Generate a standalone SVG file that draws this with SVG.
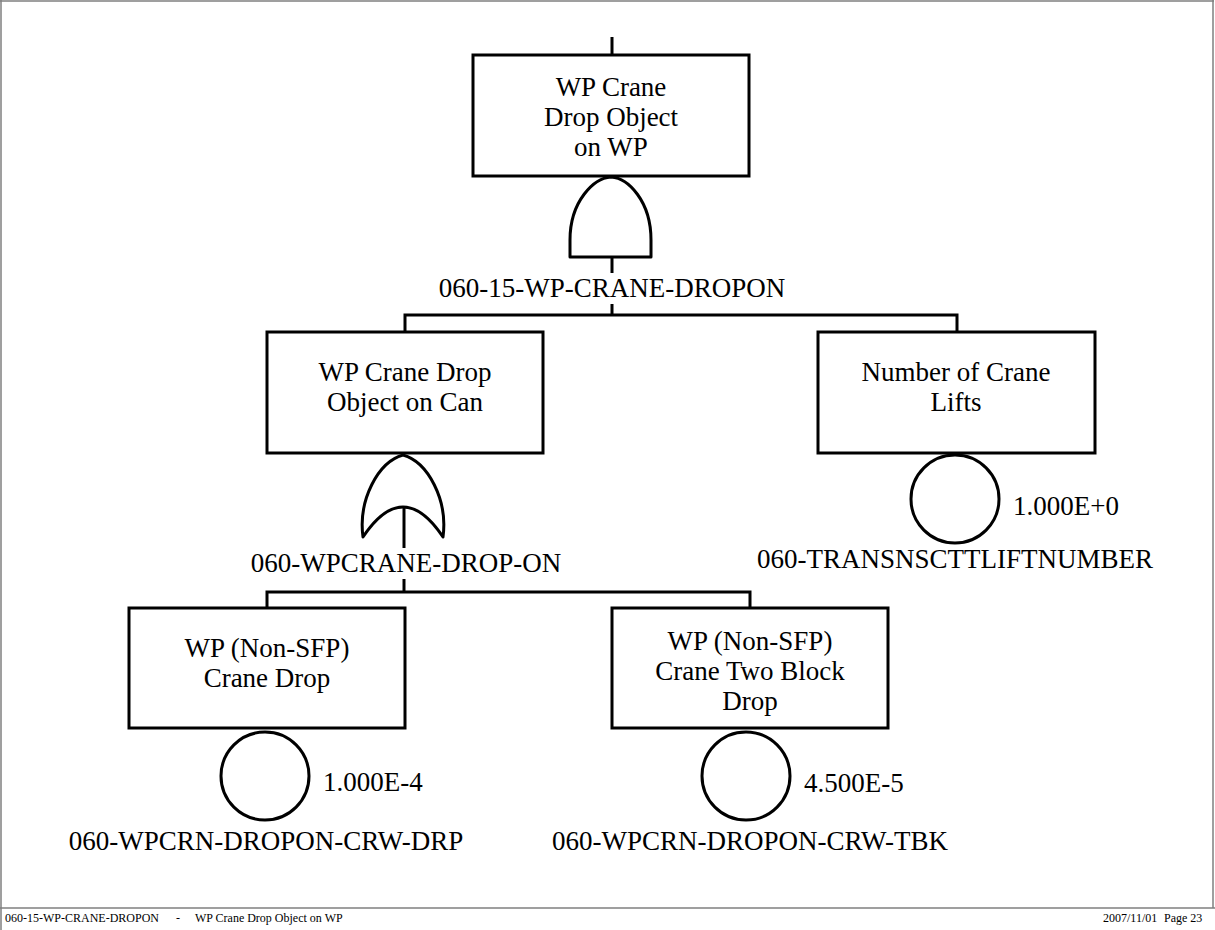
<svg xmlns="http://www.w3.org/2000/svg" width="1215" height="930" viewBox="0 0 1215 930">
<style>
.bg{fill:#ffffff}
.frame{stroke:#7f7f7f;stroke-width:1.5;fill:none}
.box{fill:#ffffff;stroke:#000;stroke-width:3}
.gate{fill:#ffffff;stroke:#000;stroke-width:3;stroke-linejoin:round}
.ln{stroke:#000;stroke-width:3;fill:none}
.t{font-family:"Liberation Serif","Times New Roman",serif;font-size:27px;fill:#000}
.c{text-anchor:middle}
.f{font-family:"Liberation Serif","Times New Roman",serif;font-size:12px;fill:#000}
</style>
<rect class="bg" x="0" y="0" width="1215" height="930"/>
<g id="frame">
<line class="frame" x1="0" y1="1" x2="1214" y2="1"/>
<line class="frame" x1="1" y1="0" x2="1" y2="930"/>
<line class="frame" x1="1213" y1="0" x2="1213" y2="908"/>
<line class="frame" x1="0" y1="908" x2="1215" y2="908"/>
</g>
<g id="connectors">
<line class="ln" x1="612" y1="37" x2="612" y2="55"/>
<line class="ln" x1="612" y1="257" x2="612" y2="273"/>
<line class="ln" x1="612" y1="304" x2="612" y2="315"/>
<polyline class="ln" points="405,332 405,315 957,315 957,332"/>
<line class="ln" x1="404" y1="507" x2="404" y2="548"/>
<line class="ln" x1="404" y1="579" x2="404" y2="592"/>
<polyline class="ln" points="267,608 267,592 750,592 750,608"/>
</g>
<g id="top-event">
<rect class="box" x="473" y="55" width="276" height="121"/>
<text class="t c" x="611" y="96">WP Crane</text>
<text class="t c" x="611" y="126">Drop Object</text>
<text class="t c" x="611" y="156">on WP</text>
</g>
<g id="gate-and">
<path class="gate" d="M570,257 V240 C570,201 594,178 611,177 C628,178 651,201 651,240 V257 Z"/>
<text class="t c" x="612" y="297">060-15-WP-CRANE-DROPON</text>
</g>
<g id="event-can">
<rect class="box" x="267" y="332" width="276" height="121"/>
<text class="t c" x="405" y="381">WP Crane Drop</text>
<text class="t c" x="405" y="411">Object on Can</text>
</g>
<g id="gate-or">
<path class="gate" d="M363,537 C358,500 378,462 403,455 C428,462 448,500 443,537 Q403,477 363,537 Z"/>
<text class="t c" x="406" y="572">060-WPCRANE-DROP-ON</text>
</g>
<g id="event-lifts">
<rect class="box" x="818" y="332" width="277" height="121"/>
<text class="t c" x="956" y="381">Number of Crane</text>
<text class="t c" x="956" y="411">Lifts</text>
<circle class="box" cx="955" cy="499" r="44"/>
<text class="t" x="1013" y="515">1.000E+0</text>
<text class="t c" x="955" y="568">060-TRANSNSCTTLIFTNUMBER</text>
</g>
<g id="event-drp">
<rect class="box" x="129" y="608" width="276" height="120"/>
<text class="t c" x="267" y="657">WP (Non-SFP)</text>
<text class="t c" x="267" y="687">Crane Drop</text>
<circle class="box" cx="265" cy="776" r="44"/>
<text class="t" x="323" y="791">1.000E-4</text>
<text class="t c" x="266" y="850">060-WPCRN-DROPON-CRW-DRP</text>
</g>
<g id="event-tbk">
<rect class="box" x="612" y="608" width="276" height="120"/>
<text class="t c" x="750" y="650">WP (Non-SFP)</text>
<text class="t c" x="750" y="680">Crane Two Block</text>
<text class="t c" x="750" y="710">Drop</text>
<circle class="box" cx="746" cy="776" r="44"/>
<text class="t" x="804" y="792">4.500E-5</text>
<text class="t c" x="750" y="850">060-WPCRN-DROPON-CRW-TBK</text>
</g>
<g id="footer">
<text class="f" x="5" y="922">060-15-WP-CRANE-DROPON</text>
<text class="f" x="176" y="922">-</text>
<text class="f" x="195" y="922">WP Crane Drop Object on WP</text>
<text class="f" x="1103" y="922">2007/11/01</text>
<text class="f" x="1164" y="922">Page 23</text>
</g>
</svg>
